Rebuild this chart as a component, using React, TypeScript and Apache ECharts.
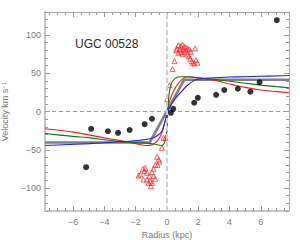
import React, { useEffect, useRef } from "react";
import * as echarts from "echarts";

const TITLE = "UGC 00528";
const X_LABEL = "Radius (kpc)";
const X_MIN = -7.8;
const X_MAX = 7.8;
const Y_MIN = -130;
const Y_MAX = 130;
const X_MAJOR = [-6, -4, -2, 0, 2, 4, 6];
const Y_MAJOR = [-100, -50, 0, 50, 100];
const X_MINOR_STEP = 0.5;
const Y_MINOR_STEP = 10;

// observed rotation velocities (black dots)
const dotsX = [-5.17, -4.85, -3.78, -3.13, -2.39, -1.43, -0.96, 0.25, 0.4, 1.74, 1.97, 3.14, 3.66, 4.53, 5.33, 5.92, 7.02];
const dotsY = [-72.8, -22.6, -25.8, -27.8, -24.2, -16.6, -9.5, -1.7, 3.5, 11.4, 17.9, 21.8, 28.1, 29.7, 25.9, 38.2, 119.3];

// red triangles
const triX = [
  0.35, 0.48, 0.63, 0.73, 0.89, 0.99, 1.12, 1.22, 1.33, 1.43, 1.52, 0.59, 0.73, 0.89, 0.99, 1.12, 1.22, 1.31, 1.41, 1.48,
  1.59, 1.65, 1.75, 1.86, 1.94, 1.8, 1.05, 0.84, 0.16, 0.0,
  -0.22, -0.09, -0.33, -0.64, -0.54, -0.48, -0.75, -0.61, -0.86, -0.96, -1.12, -1.28, -1.39, -1.54, -1.45, -1.71, -1.82,
  -1.5, -1.28, -1.07, -0.96, -1.18, -0.86, -0.75, -1.03,
];
const triY = [
  55.5, 65.8, 82, 86.7, 85.4, 87.6, 84.6, 83.3, 82, 81, 78, 80.1, 76.7, 77.5, 75.4, 77.5, 79.7, 74.5, 72.3, 68.9,
  65.8, 63.7, 62.7, 67.1, 63.7, 82.4, 81, 81, 34.5, 16,
  -34.4, -34.4, -47.5, -59.2, -62.7, -65.4, -69.7, -69.7, -74.9, -79.3, -84.6, -88.9, -73.6, -74.9, -78, -82.4, -83.7,
  -88.9, -80.1, -91.1, -93.2, -93.2, -84.6, -88, -97.6,
];

// model curves
const grayX = [-7.8, -1.1, 1.1, 7.8];
const grayY = [-40.5, -40.5, 41.5, 41.5];
const redX = [-7.8, -6, -5, -4, -3, -2, -1.3, -0.9, -0.6, -0.33, 0, 0.1, 0.41, 0.84, 1.2, 1.5, 2, 3, 4, 5, 6, 7, 7.8];
const redY = [-22.6, -27, -30.5, -34.5, -38, -42, -44.5, -43, -38, -27.8, -3, 9, 26.5, 39.6, 45, 45.5, 44, 41, 36, 31.5, 28, 26, 24.4];
const greenX = [-7.8, -6, -4.9, -4, -3, -1.7, -0.86, -0.33, -0.15, 0, 0.05, 0.12, 0.25, 0.5, 0.84, 1.2, 2, 3, 4, 5, 6, 7, 7.8];
const greenY = [-28.8, -32.5, -34.4, -37, -39.5, -41, -42.5, -44.4, -40, -25, 0, 20, 35, 43, 45.5, 45.5, 44, 42, 39.5, 37, 34.5, 32.5, 31];
const blueX = [-7.8, -4.9, -3, -1.7, -0.86, -0.33, 0, 0.31, 0.84, 1.37, 1.9, 3, 4, 5, 6, 7, 7.8];
const blueY = [-44.4, -42, -39.5, -37.5, -34.4, -25.7, -3, 10.5, 24.4, 35.3, 41.8, 44, 45, 45.5, 46, 46.5, 47];

const zip = (xs: number[], ys: number[]) => xs.map((x, i) => [x, ys[i]]);
const steps = (min: number, max: number, step: number) => {
  const out: number[] = [];
  const start = Math.ceil(min / step) * step;
  for (let v = start; v <= max + 1e-9; v += step) out.push(Math.round(v * 1000) / 1000);
  return out;
};
const fmt = (v: number) => String(v).replace("-", "\u2212");

const FONT = "Liberation Sans";
const LABEL_COLOR = "#7a7a7a";

export default function App() {
  const ref = useRef<HTMLDivElement>(null);
  useEffect(() => {
    if (!ref.current) return;
    const chart = echarts.init(ref.current, null, { renderer: "svg" });
    const xMinor = steps(X_MIN, X_MAX, X_MINOR_STEP);
    const yMinor = steps(Y_MIN, Y_MAX, Y_MINOR_STEP);
    const baseX = { type: "value", min: X_MIN, max: X_MAX, splitLine: { show: false } };
    const baseY = { type: "value", min: Y_MIN, max: Y_MAX, splitLine: { show: false } };
    const line = (x: number[], y: number[], color: string, width: number, smooth: number | boolean, z: number) => ({
      type: "line",
      data: zip(x, y),
      showSymbol: false,
      symbol: "none",
      smooth,
      lineStyle: { color, width },
      z,
      silent: true,
    });
    chart.setOption({
      animation: false,
      grid: { left: 45, right: 11, top: 12, bottom: 29, containLabel: false, outerBoundsMode: "none" },
      xAxis: [
        {
          ...baseX,
          position: "bottom",
          axisLine: { show: true, onZero: false, lineStyle: { color: "#c4c4c4", width: 2 } },
          axisTick: { show: true, inside: true, length: 5, customValues: X_MAJOR, lineStyle: { color: "#999" } },
          axisLabel: { show: true, customValues: X_MAJOR, formatter: fmt, fontFamily: FONT, fontSize: 9, color: LABEL_COLOR, margin: 6 },
          name: X_LABEL,
          nameLocation: "middle",
          nameGap: 14,
          nameTextStyle: { fontFamily: FONT, fontSize: 9, color: LABEL_COLOR },
        },
        {
          ...baseX,
          position: "bottom",
          axisLine: { show: false, onZero: false },
          axisTick: { show: true, inside: true, length: 3, customValues: xMinor, lineStyle: { color: "#999" } },
          axisLabel: { show: false },
        },
        {
          ...baseX,
          position: "top",
          axisLine: { show: true, onZero: false, lineStyle: { color: "#a8a8a8", width: 1 } },
          axisTick: { show: true, inside: true, length: 5, customValues: X_MAJOR, lineStyle: { color: "#999" } },
          axisLabel: { show: false },
        },
        {
          ...baseX,
          position: "top",
          axisLine: { show: false, onZero: false },
          axisTick: { show: true, inside: true, length: 3, customValues: xMinor, lineStyle: { color: "#999" } },
          axisLabel: { show: false },
        },
      ],
      yAxis: [
        {
          ...baseY,
          position: "left",
          axisLine: { show: true, onZero: false, lineStyle: { color: "#c4c4c4", width: 2 } },
          axisTick: { show: true, inside: true, length: 5, customValues: Y_MAJOR, lineStyle: { color: "#999" } },
          axisLabel: { show: true, customValues: Y_MAJOR, formatter: fmt, fontFamily: FONT, fontSize: 9, color: LABEL_COLOR, margin: 4 },
          name: "{m|Velocity km s}{s|\u22121}",
          nameLocation: "middle",
          nameRotate: 90,
          nameGap: 31,
          nameTextStyle: {
            color: LABEL_COLOR,
            rich: {
              m: { fontFamily: FONT, fontSize: 9, color: LABEL_COLOR },
              s: { fontFamily: FONT, fontSize: 6, color: LABEL_COLOR, verticalAlign: "top" },
            },
          },
        },
        {
          ...baseY,
          position: "left",
          axisLine: { show: false, onZero: false },
          axisTick: { show: true, inside: true, length: 3, customValues: yMinor, lineStyle: { color: "#999" } },
          axisLabel: { show: false },
        },
        {
          ...baseY,
          position: "right",
          axisLine: { show: true, onZero: false, lineStyle: { color: "#a8a8a8", width: 1 } },
          axisTick: { show: true, inside: true, length: 5, customValues: Y_MAJOR, lineStyle: { color: "#999" } },
          axisLabel: { show: false },
        },
        {
          ...baseY,
          position: "right",
          axisLine: { show: false, onZero: false },
          axisTick: { show: true, inside: true, length: 3, customValues: yMinor, lineStyle: { color: "#999" } },
          axisLabel: { show: false },
        },
      ],
      graphic: [
        {
          type: "text",
          left: 75,
          top: 38,
          style: { text: TITLE, fontFamily: FONT, fontSize: 12, fill: "#2a2a2a" },
        },
      ],
      series: [
        {
          ...line(grayX, grayY, "#7f7f7f", 2.6, false, 2),
          markLine: {
            silent: true,
            symbol: ["none", "none"],
            label: { show: false },
            data: [
              { yAxis: 0, lineStyle: { color: "#9a9a9a", width: 1, type: [4, 3] } },
              { xAxis: 0, lineStyle: { color: "#cfcfcf", width: 2, type: [5, 3] } },
            ],
          },
        },
        line(redX, redY, "#ff1a1a", 1.1, 0.25, 3),
        line(greenX, greenY, "#0b7a0b", 1.1, 0.25, 3),
        line(blueX, blueY, "#1a1aff", 1.1, 0.25, 3),
        {
          type: "scatter",
          data: zip(triX, triY),
          symbol: "triangle",
          symbolSize: 5,
          itemStyle: { color: "rgba(0,0,0,0)", borderColor: "#ff2020", borderWidth: 0.9 },
          z: 4,
          silent: true,
        },
        {
          type: "scatter",
          data: zip(dotsX, dotsY),
          symbol: "circle",
          symbolSize: 6,
          itemStyle: { color: "#000" },
          z: 5,
          silent: true,
        },
      ],
    });
    return () => chart.dispose();
  }, []);
  return <div ref={ref} style={{ width: 300, height: 240, position: "absolute", left: 0, top: 0 }} />;
}
